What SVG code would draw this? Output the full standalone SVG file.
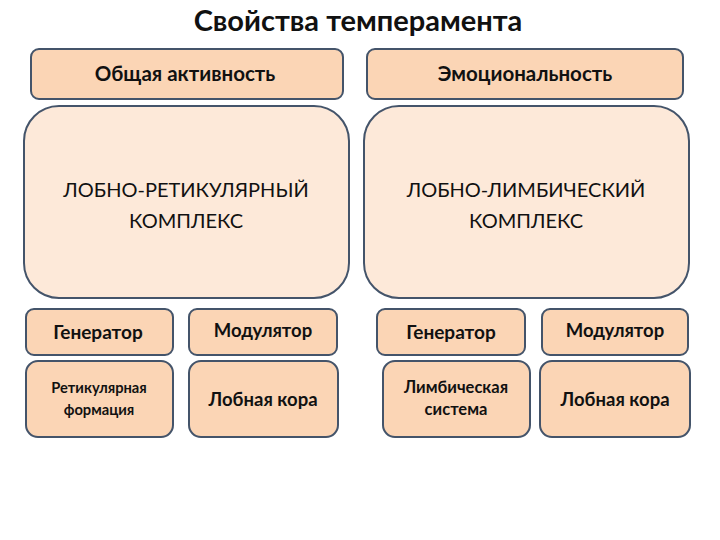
<svg xmlns="http://www.w3.org/2000/svg" width="720" height="540" viewBox="0 0 720 540">
<style>
.h{fill:#fbd5b5;stroke:#44546a;stroke-width:2}
.b{fill:#fde9d9;stroke:#44546a;stroke-width:2}
text{font-family:Lato,"Open Sans","Liberation Sans",sans-serif;fill:#111;text-anchor:middle}
.bold{font-weight:bold}
</style>
<rect width="720" height="540" fill="#fff"/>
<text class="bold" x="358" y="31" font-size="29">Свойства темперамента</text>
<g id="activity"><rect class="h" x="31" y="49" width="312" height="50" rx="8"/><text class="bold" x="185" y="81" font-size="20.5">Общая активность</text></g>
<g id="emotion"><rect class="h" x="367" y="49" width="316" height="50" rx="8"/><text class="bold" x="525" y="81" font-size="20.5">Эмоциональность</text></g>
<g id="frontoreticular"><rect class="b" x="24" y="106" width="325" height="192" rx="35"/><text x="186" y="197" font-size="20">ЛОБНО-РЕТИКУЛЯРНЫЙ</text><text x="186" y="228" font-size="20">КОМПЛЕКС</text></g>
<g id="frontolimbic"><rect class="b" x="364" y="106" width="325" height="192" rx="35"/><text x="526" y="197" font-size="20">ЛОБНО-ЛИМБИЧЕСКИЙ</text><text x="526" y="228" font-size="20">КОМПЛЕКС</text></g>
<g id="gen1"><rect class="h" x="26" y="309" width="147" height="46" rx="8"/><text class="bold" x="98" y="339" font-size="19">Генератор</text></g>
<g id="mod1"><rect class="h" x="189" y="309" width="148" height="46" rx="8"/><text class="bold" x="263" y="337" font-size="18.5">Модулятор</text></g>
<g id="gen2"><rect class="h" x="377" y="309" width="148" height="46" rx="8"/><text class="bold" x="451" y="339" font-size="19">Генератор</text></g>
<g id="mod2"><rect class="h" x="542" y="309" width="146" height="46" rx="8"/><text class="bold" x="615" y="337" font-size="18.5">Модулятор</text></g>
<g id="reticular"><rect class="h" x="26" y="361" width="147" height="76" rx="12"/><text class="bold" x="99" y="393" font-size="14.7">Ретикулярная</text><text class="bold" x="99" y="415" font-size="14.7">формация</text></g>
<g id="cortex1"><rect class="h" x="189" y="361" width="149" height="76" rx="12"/><text class="bold" x="263" y="406" font-size="18.5">Лобная кора</text></g>
<g id="limbic"><rect class="h" x="383" y="361" width="147" height="76" rx="12"/><text class="bold" x="456" y="393" font-size="16.5">Лимбическая</text><text class="bold" x="456" y="415" font-size="16.5">система</text></g>
<g id="cortex2"><rect class="h" x="540" y="361" width="150" height="76" rx="12"/><text class="bold" x="615" y="406" font-size="18.5">Лобная кора</text></g>
<g id="connectors"></g>
</svg>
